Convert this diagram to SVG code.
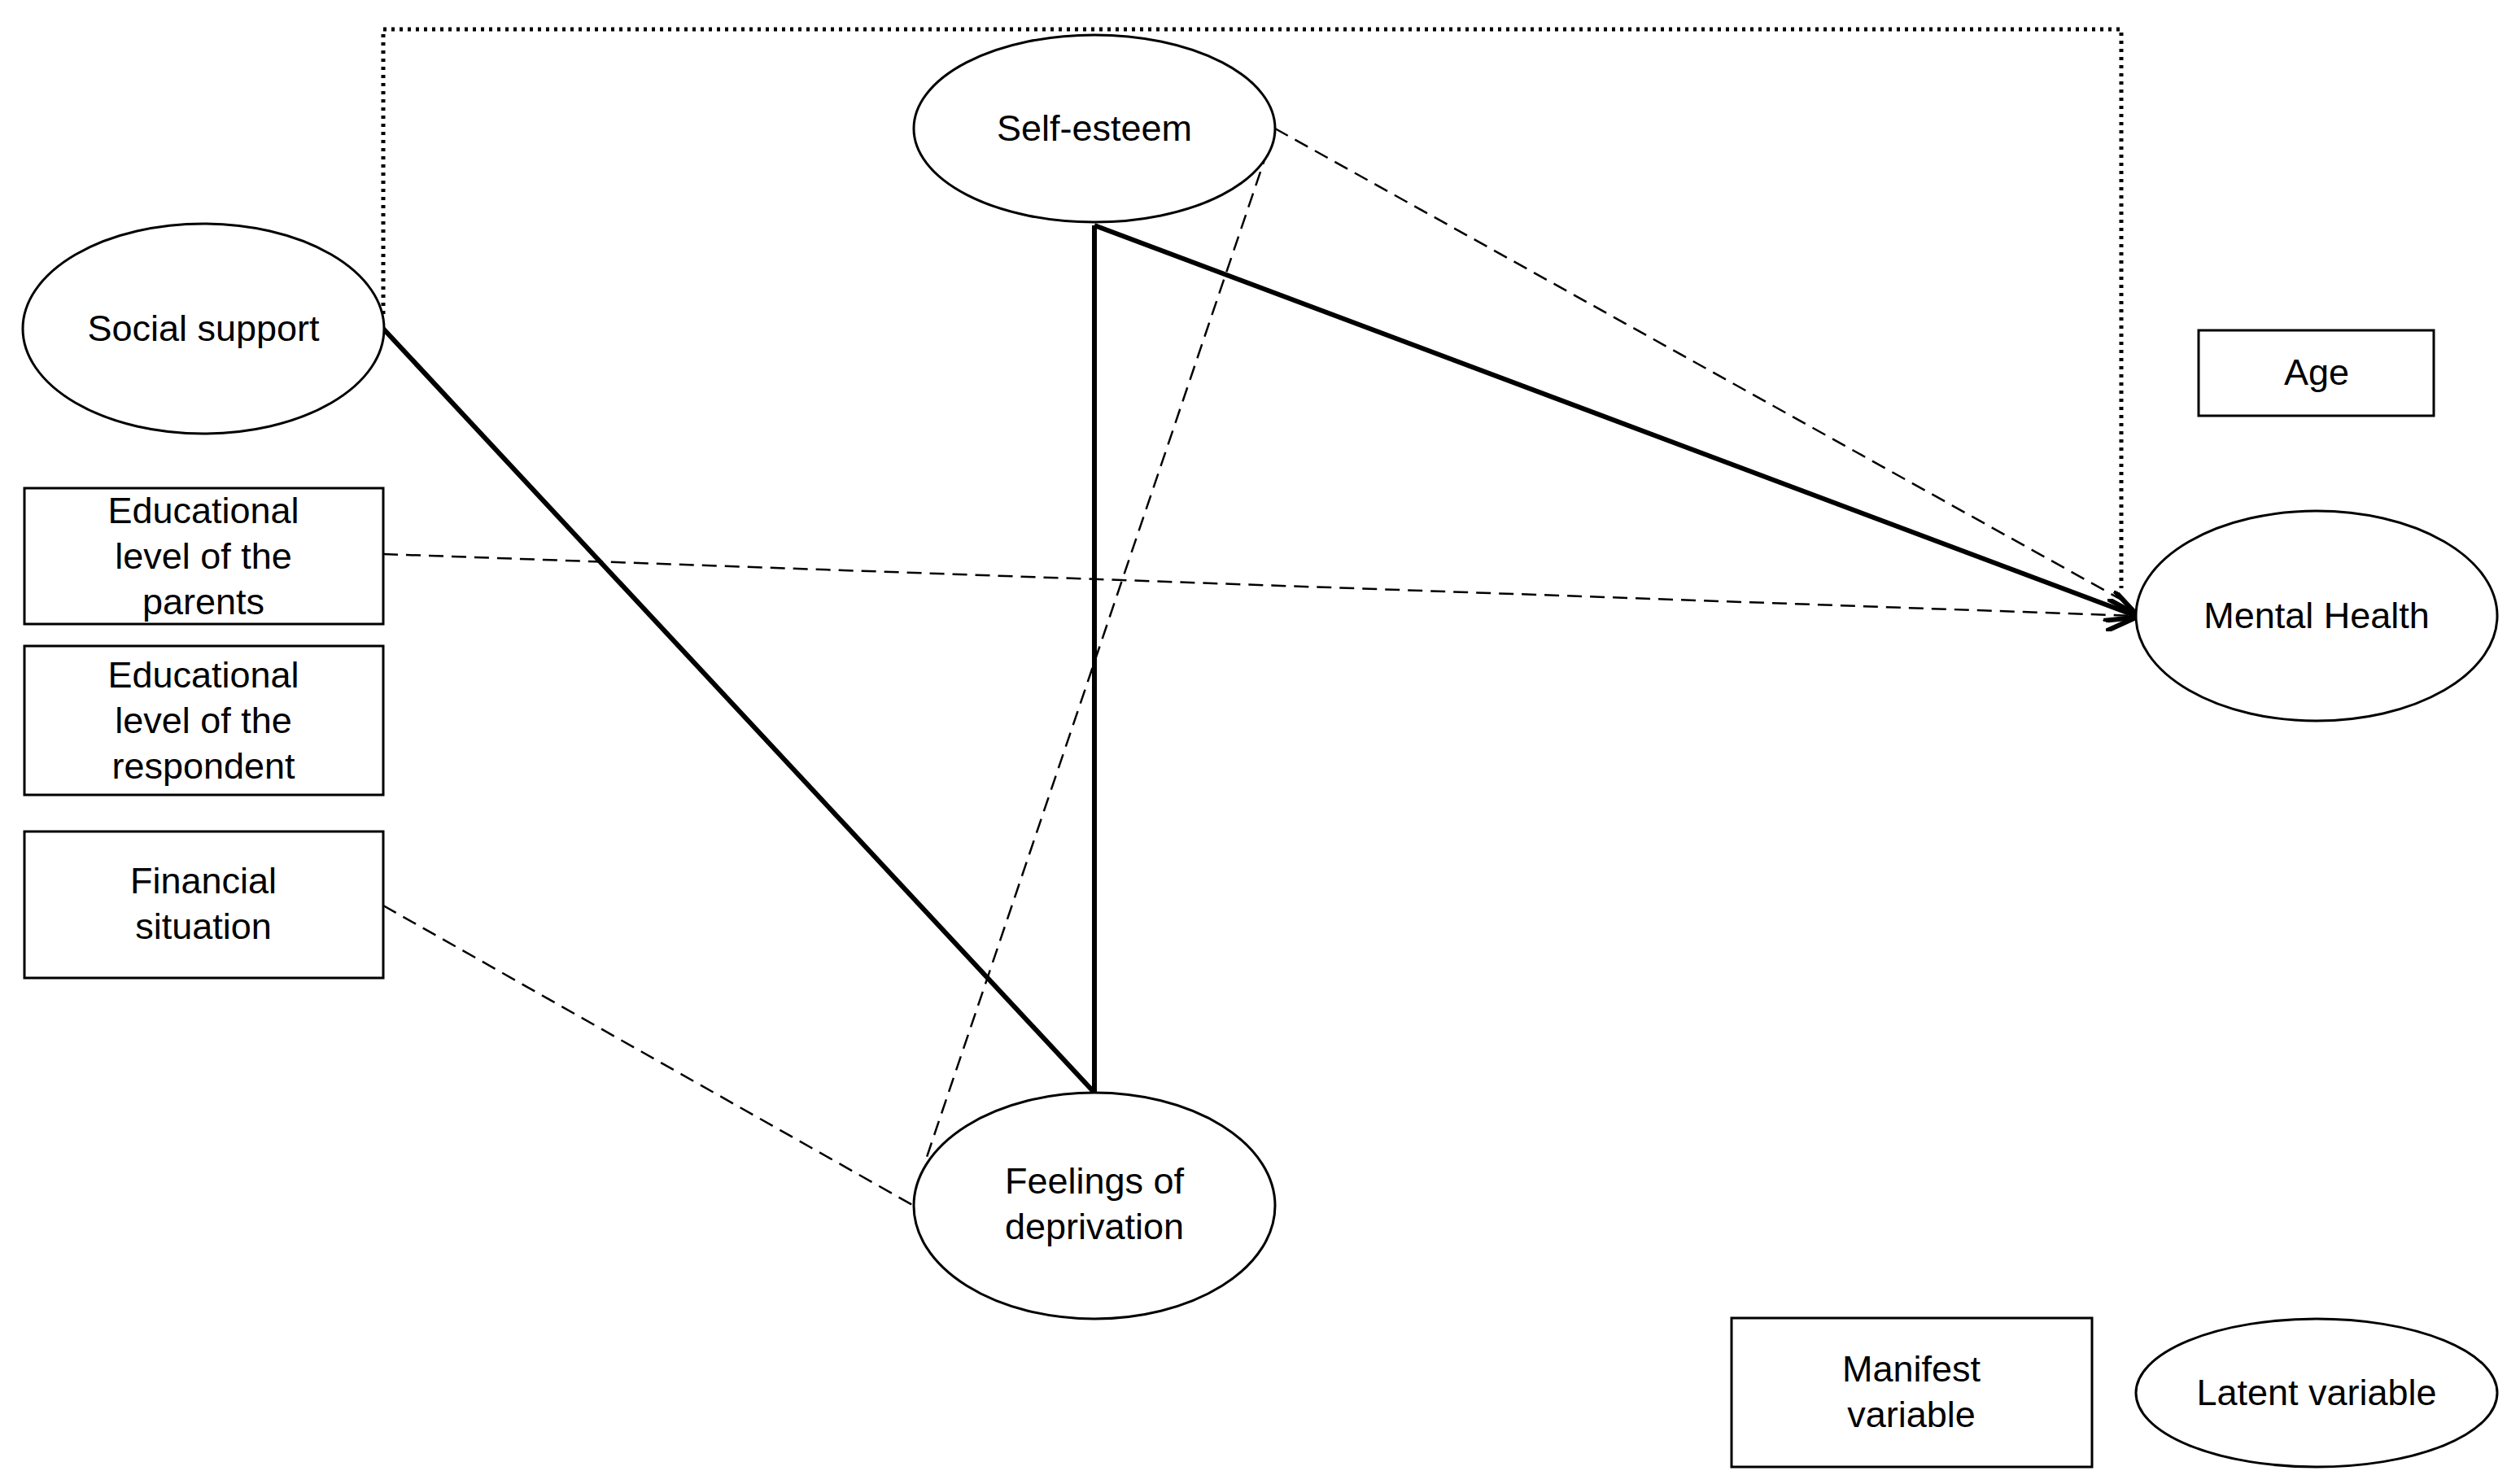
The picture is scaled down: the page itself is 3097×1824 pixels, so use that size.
<svg xmlns="http://www.w3.org/2000/svg" width="3097" height="1824" viewBox="0 0 3097 1824">
<style>
.n{fill:#fff;stroke:#000;stroke-width:3}
.t{font-family:"Liberation Sans",Arial,sans-serif;font-size:45px;text-anchor:middle;fill:#000}
.thick{stroke:#000;stroke-width:6;fill:none}
.dash{stroke:#000;stroke-width:2.5;fill:none;stroke-dasharray:18 10}
.dot{stroke:#000;stroke-width:5;fill:none;stroke-dasharray:4 6}
</style>
<defs>
<marker id="b" viewBox="0 0 10 10" refX="9" refY="5" markerWidth="40" markerHeight="40" markerUnits="userSpaceOnUse" orient="auto">
<path d="M0,0 L10,5 L0,10" fill="none" stroke="#000" stroke-width="1.5"/>
</marker>
</defs>
<g id="connectors">
<path class="dot" d="M471,386 V36 H2607 V723"/>
<line class="thick" x1="471" y1="404" x2="1345" y2="1343"/>
<line class="thick" x1="1345" y1="277" x2="1345" y2="1343"/>
<line class="thick" x1="1345" y1="277" x2="2625" y2="757" marker-end="url(#b)"/>
<line class="dash" x1="1567" y1="158" x2="2607" y2="737"/>
<line class="dash" x1="1567" y1="158" x2="1139" y2="1422"/>
<line class="dash" x1="471" y1="681" x2="2625" y2="757" marker-end="url(#b)"/>
<line class="dash" x1="471" y1="1113" x2="1123" y2="1482"/>
</g>
<g id="self-esteem"><ellipse class="n" cx="1345" cy="158" rx="222" ry="115"/><text class="t" x="1345" y="173">Self-esteem</text></g>
<g id="social-support"><ellipse class="n" cx="250" cy="404" rx="222" ry="129"/><text class="t" x="250" y="419">Social support</text></g>
<g id="edu-parents"><rect class="n" x="30" y="600" width="441" height="167"/><text class="t" x="250" y="643">Educational</text><text class="t" x="250" y="699">level of the</text><text class="t" x="250" y="755">parents</text></g>
<g id="edu-resp"><rect class="n" x="30" y="794" width="441" height="183"/><text class="t" x="250" y="845">Educational</text><text class="t" x="250" y="901">level of the</text><text class="t" x="250" y="957">respondent</text></g>
<g id="financial"><rect class="n" x="30" y="1022" width="441" height="180"/><text class="t" x="250" y="1098">Financial</text><text class="t" x="250" y="1154">situation</text></g>
<g id="feelings"><ellipse class="n" cx="1345" cy="1482" rx="222" ry="139"/><text class="t" x="1345" y="1467">Feelings of</text><text class="t" x="1345" y="1523">deprivation</text></g>
<g id="mental-health"><ellipse class="n" cx="2847" cy="757" rx="222" ry="129"/><text class="t" x="2847" y="772">Mental Health</text></g>
<g id="age"><rect class="n" x="2702" y="406" width="289" height="105"/><text class="t" x="2847" y="473">Age</text></g>
<g id="manifest"><rect class="n" x="2128" y="1620" width="443" height="183"/><text class="t" x="2349" y="1698">Manifest</text><text class="t" x="2349" y="1754">variable</text></g>
<g id="latent"><ellipse class="n" cx="2847" cy="1712" rx="222" ry="91"/><text class="t" x="2847" y="1727">Latent variable</text></g>
</svg>
